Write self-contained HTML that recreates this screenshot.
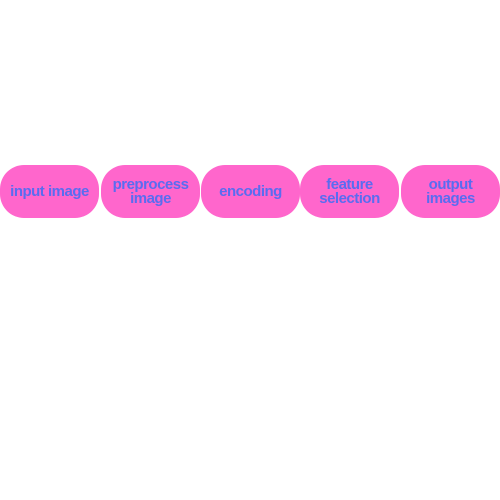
<!DOCTYPE html>
<html><head><style>
body{margin:0;width:500px;height:500px;background:#fff;position:relative;font-family:"Liberation Sans",sans-serif}
.p{position:absolute;top:165px;height:53px;width:99px;background:#ff66cc;border-radius:24px;display:flex;align-items:center;justify-content:center;text-align:center;color:#5a6cf0;font-weight:bold;font-size:15px;line-height:14px;letter-spacing:-0.5px}
</style></head><body>
<div class="p" style="left:0">input image</div>
<div class="p" style="left:101px">preprocess<br>image</div>
<div class="p" style="left:201px">encoding</div>
<div class="p" style="left:300px">feature<br>selection</div>
<div class="p" style="left:401px">output<br>images</div>
</body></html>
